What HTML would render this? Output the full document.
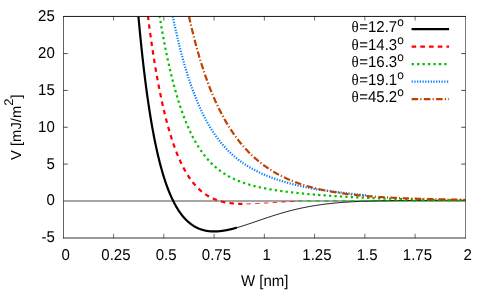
<!DOCTYPE html>
<html><head><meta charset="utf-8"><title>V(W) potential</title>
<style>
html,body{margin:0;padding:0;background:#fff;}
svg{display:block;will-change:transform;}
text{font-family:"Liberation Sans",sans-serif;font-size:15.7px;fill:#000;text-rendering:geometricPrecision;}
</style></head>
<body>
<svg width="491" height="294" viewBox="0 0 491 294">
<defs><clipPath id="c"><rect x="63.5" y="16.5" width="402.0" height="221.0"/></clipPath></defs>
<rect x="0" y="0" width="491" height="294" fill="#ffffff"/>
<line x1="63.5" y1="201" x2="465.5" y2="201" stroke="#a6a6a6" stroke-width="2"/>
<g clip-path="url(#c)" fill="none" stroke-linecap="butt" stroke-linejoin="round">
<path d="M130.00,-100.09 L130.50,-91.69 L131.00,-83.50 L131.50,-75.52 L132.00,-67.74 L132.50,-60.16 L133.00,-52.77 L133.50,-45.57 L134.00,-38.54 L134.50,-31.70 L135.00,-25.03 L135.50,-18.52 L136.00,-12.18 L136.50,-6.00 L137.00,0.03 L137.50,5.91 L138.00,11.65 L138.50,17.24 L139.00,22.69 L139.50,28.00 L140.00,33.19 L140.50,38.25 L141.00,43.18 L141.50,47.99 L142.00,52.68 L142.50,57.26 L143.00,61.72 L143.50,66.08 L144.00,70.33 L144.50,74.48 L145.00,78.52 L145.50,82.47 L146.00,86.32 L146.50,90.07 L147.00,93.74 L147.50,97.31 L148.00,100.80 L148.50,104.21 L149.00,107.53 L149.50,110.78 L150.00,113.94 L150.50,117.03 L151.00,120.04 L151.50,122.99 L152.00,125.86 L152.50,128.66 L153.00,131.39 L153.50,134.06 L154.00,136.67 L154.50,139.21 L155.00,141.69 L155.50,144.12 L156.00,146.48 L156.50,148.79 L157.00,151.04 L157.50,153.24 L158.00,155.39 L158.50,157.48 L159.00,159.53 L159.50,161.52 L160.00,163.47 L160.50,165.37 L161.00,167.23 L161.50,169.04 L162.00,170.81 L162.50,172.54 L163.00,174.22 L163.50,175.87 L164.00,177.47 L164.50,179.04 L165.00,180.57 L165.50,182.06 L166.00,183.52 L166.50,184.94 L167.00,186.33 L167.50,187.68 L168.00,189.00 L168.50,190.29 L169.00,191.55 L169.50,192.77 L170.00,193.97 L170.50,195.14 L171.00,196.27 L171.50,197.39 L172.00,198.47 L172.50,199.53 L173.00,200.56 L173.50,201.56 L174.00,202.54 L174.50,203.49 L175.00,204.43 L175.50,205.33 L176.00,206.22 L176.50,207.08 L177.00,207.92 L177.50,208.74 L178.00,209.53 L178.50,210.31 L179.00,211.07 L179.50,211.80 L180.00,212.52 L180.50,213.22 L181.00,213.90 L181.50,214.56 L182.00,215.20 L182.50,215.83 L183.00,216.44 L183.50,217.03 L184.00,217.61 L184.50,218.17 L185.00,218.71 L185.50,219.24 L186.00,219.75 L186.50,220.25 L187.00,220.74 L187.50,221.21 L188.00,221.66 L188.50,222.10 L189.00,222.53 L189.50,222.95 L190.00,223.35 L190.50,223.74 L191.00,224.12 L191.50,224.48 L192.00,224.84 L192.50,225.18 L193.00,225.51 L193.50,225.83 L194.00,226.14 L194.50,226.43 L195.00,226.72 L195.50,227.00 L196.00,227.26 L196.50,227.52 L197.00,227.76 L197.50,228.00 L198.00,228.23 L198.50,228.45 L199.00,228.65 L199.50,228.85 L200.00,229.05 L200.50,229.23 L201.00,229.40 L201.50,229.57 L202.00,229.73 L202.50,229.88 L203.00,230.02 L203.50,230.15 L204.00,230.28 L204.50,230.40 L205.00,230.51 L205.50,230.62 L206.00,230.71 L206.50,230.81 L207.00,230.89 L207.50,230.97 L208.00,231.04 L208.50,231.11 L209.00,231.17 L209.50,231.22 L210.00,231.27 L210.50,231.31 L211.00,231.34 L211.50,231.37 L212.00,231.40 L212.50,231.42 L213.00,231.43 L213.50,231.44 L214.00,231.44 L214.50,231.44 L215.00,231.44 L215.50,231.43 L216.00,231.41 L216.50,231.39 L217.00,231.37 L217.50,231.34 L218.00,231.30 L218.50,231.27 L219.00,231.22 L219.50,231.18 L220.00,231.13 L220.50,231.08 L221.00,231.02 L221.50,230.96 L222.00,230.89 L222.50,230.82 L223.00,230.75 L223.50,230.68 L224.00,230.60 L224.50,230.52 L225.00,230.43 L225.50,230.34 L226.00,230.25 L226.50,230.16 L227.00,230.06 L227.50,229.96 L228.00,229.86 L228.50,229.76 L229.00,229.65 L229.50,229.54 L230.00,229.42 L230.50,229.31 L231.00,229.19 L231.50,229.07 L232.00,228.95 L232.50,228.83 L233.00,228.70 L233.50,228.57 L234.00,228.44 L234.50,228.31 L235.00,228.17 L235.50,228.04 L236.00,227.90 L236.50,227.76 L236.90,227.65" stroke="#000000" stroke-width="2.2"/>
<path d="M236.90,227.65 L237.90,227.36 L238.90,227.07 L239.90,226.77 L240.90,226.47 L241.90,226.16 L242.90,225.84 L243.90,225.53 L244.90,225.21 L245.90,224.88 L246.90,224.55 L247.90,224.22 L248.90,223.89 L249.90,223.55 L250.90,223.22 L251.90,222.88 L252.90,222.54 L253.90,222.20 L254.90,221.85 L255.90,221.51 L256.90,221.17 L257.90,220.82 L258.90,220.48 L259.90,220.14 L260.90,219.80 L261.90,219.45 L262.90,219.11 L263.90,218.77 L264.90,218.44 L265.90,218.10 L266.90,217.77 L267.90,217.43 L268.90,217.10 L269.90,216.77 L270.90,216.45 L271.90,216.12 L272.90,215.80 L273.90,215.48 L274.90,215.17 L275.90,214.86 L276.90,214.55 L277.90,214.24 L278.90,213.94 L279.90,213.64 L280.90,213.34 L281.90,213.05 L282.90,212.76 L283.90,212.47 L284.90,212.19 L285.90,211.91 L286.90,211.64 L287.90,211.36 L288.90,211.10 L289.90,210.84 L290.90,210.58 L291.90,210.32 L292.90,210.07 L293.90,209.82 L294.90,209.58 L295.90,209.34 L296.90,209.11 L297.90,208.88 L298.90,208.65 L299.90,208.43 L300.90,208.21 L301.90,208.00 L302.90,207.79 L303.90,207.58 L304.90,207.38 L305.90,207.18 L306.90,206.99 L307.90,206.80 L308.90,206.61 L309.90,206.43 L310.90,206.25 L311.90,206.08 L312.90,205.91 L313.90,205.74 L314.90,205.58 L315.90,205.42 L316.90,205.26 L317.90,205.11 L318.90,204.96 L319.90,204.82 L320.90,204.68 L321.90,204.54 L322.90,204.41 L323.90,204.28 L324.90,204.15 L325.90,204.03 L326.90,203.91 L327.90,203.79 L328.90,203.68 L329.90,203.56 L330.90,203.46 L331.90,203.35 L332.90,203.25 L333.90,203.15 L334.90,203.05 L335.90,202.96 L336.90,202.87 L337.90,202.78 L338.90,202.70 L339.90,202.61 L340.90,202.53 L341.90,202.45 L342.90,202.38 L343.90,202.30 L344.90,202.23 L345.90,202.16 L346.90,202.10 L347.90,202.03 L348.90,201.97 L349.90,201.91 L350.90,201.85 L351.90,201.80 L352.90,201.74 L353.90,201.69 L354.90,201.64 L355.90,201.59 L356.90,201.54 L357.90,201.49 L358.90,201.45 L359.90,201.41 L360.90,201.37 L361.90,201.33 L362.90,201.29 L363.90,201.25 L364.90,201.22 L365.90,201.18 L366.90,201.15 L367.90,201.12 L368.90,201.09 L369.90,201.06 L370.90,201.03 L371.90,201.00 L372.90,200.97 L373.90,200.95 L374.90,200.93 L375.90,200.90 L376.90,200.88 L377.90,200.86 L378.90,200.84 L379.90,200.82 L380.90,200.80 L381.90,200.78 L382.90,200.76 L383.90,200.75 L384.90,200.73 L385.90,200.72 L386.90,200.70 L387.90,200.69 L388.90,200.67 L389.90,200.66 L390.90,200.65 L391.90,200.64 L392.90,200.62 L393.90,200.61 L394.90,200.60 L395.90,200.59 L396.90,200.58 L397.90,200.57 L398.90,200.57 L399.90,200.56 L400.90,200.55 L401.90,200.54 L402.90,200.53 L403.90,200.53 L404.90,200.52 L405.90,200.51 L406.90,200.51 L407.90,200.50 L408.90,200.50 L409.90,200.49 L410.90,200.48 L411.90,200.48 L412.90,200.48 L413.90,200.47 L414.90,200.47 L415.90,200.46 L416.90,200.46 L417.90,200.45 L418.90,200.45 L419.90,200.45 L420.90,200.44 L421.90,200.44 L422.90,200.44 L423.90,200.43 L424.90,200.43 L425.90,200.43 L426.90,200.42 L427.90,200.42 L428.90,200.42 L429.90,200.42 L430.90,200.41 L431.90,200.41 L432.90,200.41 L433.90,200.40 L434.90,200.40 L435.90,200.40 L436.90,200.40 L437.90,200.40 L438.90,200.39 L439.90,200.39 L440.90,200.39 L441.90,200.39 L442.90,200.38 L443.90,200.38 L444.90,200.38 L445.90,200.38 L446.90,200.37 L447.90,200.37 L448.90,200.37 L449.90,200.37 L450.90,200.36 L451.90,200.36 L452.90,200.36 L453.90,200.36 L454.90,200.35 L455.90,200.35 L456.90,200.35 L457.90,200.35 L458.90,200.34 L459.90,200.34 L460.90,200.34 L461.90,200.34 L462.90,200.33 L463.90,200.33 L464.90,200.33 L465.50,200.33" stroke="#000000" stroke-width="0.9"/>
<path d="M140.00,-58.13 L140.50,-52.74 L141.00,-47.46 L141.50,-42.29 L142.00,-37.21 L142.50,-32.23 L143.00,-27.35 L143.50,-22.57 L144.00,-17.88 L144.50,-13.28 L145.00,-8.77 L145.50,-4.34 L146.00,-0.01 L146.50,4.24 L147.00,8.41 L147.50,12.50 L148.00,16.51 L148.50,20.44 L149.00,24.29 L149.50,28.07 L150.00,31.78 L150.50,35.41 L151.00,38.97 L151.50,42.47 L152.00,45.89 L152.50,49.25 L153.00,52.54 L153.50,55.77 L154.00,58.94 L154.50,62.05 L155.00,65.09 L155.50,68.07 L156.00,71.00 L156.50,73.87 L157.00,76.68 L157.50,79.44 L158.00,82.15 L158.50,84.80 L159.00,87.40 L159.50,89.95 L160.00,92.45 L160.50,94.90 L161.00,97.30 L161.50,99.66 L162.00,101.97 L162.50,104.23 L163.00,106.45 L163.50,108.63 L164.00,110.76 L164.50,112.86 L165.00,114.91 L165.50,116.92 L166.00,118.89 L166.50,120.82 L167.00,122.71 L167.50,124.57 L168.00,126.39 L168.50,128.17 L169.00,129.92 L169.50,131.63 L170.00,133.31 L170.50,134.95 L171.00,136.56 L171.50,138.14 L172.00,139.69 L172.50,141.21 L173.00,142.69 L173.50,144.15 L174.00,145.58 L174.50,146.98 L175.00,148.35 L175.50,149.69 L176.00,151.00 L176.50,152.29 L177.00,153.55 L177.50,154.79 L178.00,156.00 L178.50,157.19 L179.00,158.35 L179.50,159.49 L180.00,160.60 L180.50,161.69 L181.00,162.76 L181.50,163.81 L182.00,164.83 L182.50,165.83 L183.00,166.81 L183.50,167.78 L184.00,168.72 L184.50,169.64 L185.00,170.54 L185.50,171.42 L186.00,172.28 L186.50,173.13 L187.00,173.95 L187.50,174.76 L188.00,175.55 L188.50,176.33 L189.00,177.08 L189.50,177.82 L190.00,178.55 L190.50,179.26 L191.00,179.95 L191.50,180.63 L192.00,181.29 L192.50,181.94 L193.00,182.57 L193.50,183.19 L194.00,183.79 L194.50,184.38 L195.00,184.96 L195.50,185.52 L196.00,186.07 L196.50,186.61 L197.00,187.14 L197.50,187.65 L198.00,188.15 L198.50,188.64 L199.00,189.12 L199.50,189.58 L200.00,190.04 L200.50,190.48 L201.00,190.91 L201.50,191.34 L202.00,191.75 L202.50,192.15 L203.00,192.54 L203.50,192.92 L204.00,193.30 L204.50,193.66 L205.00,194.01 L205.50,194.36 L206.00,194.69 L206.50,195.02 L207.00,195.34 L207.50,195.65 L208.00,195.95 L208.50,196.24 L209.00,196.53 L209.50,196.81 L210.00,197.08 L210.50,197.34 L211.00,197.60 L211.50,197.85 L212.00,198.09 L212.50,198.32 L213.00,198.55 L213.50,198.77 L214.00,198.98 L214.50,199.19 L215.00,199.39 L215.50,199.59 L216.00,199.78 L216.50,199.96 L217.00,200.14 L217.50,200.31 L218.00,200.48 L218.50,200.64 L219.00,200.80 L219.50,200.95 L220.00,201.09 L220.50,201.24 L221.00,201.37 L221.50,201.50 L222.00,201.63 L222.50,201.75 L223.00,201.87 L223.50,201.98 L224.00,202.09 L224.50,202.20 L225.00,202.30 L225.50,202.40 L226.00,202.49 L226.50,202.58 L227.00,202.66 L227.50,202.75 L228.00,202.82 L228.50,202.90 L229.00,202.97 L229.50,203.04 L230.00,203.10 L230.50,203.17 L231.00,203.23 L231.50,203.28 L232.00,203.33 L232.50,203.38 L233.00,203.43 L233.50,203.48 L234.00,203.52 L234.50,203.56 L235.00,203.59 L235.50,203.63 L236.00,203.66 L236.50,203.69 L237.00,203.72 L237.50,203.74 L238.00,203.76 L238.50,203.79 L239.00,203.80 L239.50,203.82 L240.00,203.84 L240.50,203.85 L241.00,203.86 L241.50,203.87 L242.00,203.88 L242.40,203.88" stroke="#ff0000" stroke-width="2.2" stroke-dasharray="4.5,4.2" stroke-dashoffset="4.08"/>
<path d="M242.40,203.88 L243.40,203.89 L244.40,203.89 L245.40,203.89 L246.40,203.88 L247.40,203.87 L248.40,203.85 L249.40,203.82 L250.40,203.79 L251.40,203.76 L252.40,203.73 L253.40,203.69 L254.40,203.65 L255.40,203.61 L256.40,203.56 L257.40,203.51 L258.40,203.46 L259.40,203.41 L260.40,203.35 L261.40,203.30 L262.40,203.24 L263.40,203.18 L264.40,203.12 L265.40,203.06 L266.40,203.00 L267.40,202.94 L268.40,202.88 L269.40,202.81 L270.40,202.75 L271.40,202.69 L272.40,202.63 L273.40,202.56 L274.40,202.50 L275.40,202.44 L276.40,202.38 L277.40,202.32 L278.40,202.26 L279.40,202.20 L280.40,202.14 L281.40,202.08 L282.40,202.02 L283.40,201.96 L284.40,201.91 L285.40,201.85 L286.40,201.80 L287.40,201.75 L288.40,201.69 L289.40,201.64 L290.40,201.59 L291.40,201.54 L292.40,201.50 L293.40,201.45 L294.40,201.40 L295.40,201.36 L296.40,201.32 L296.50,201.31" stroke="#ff0000" stroke-width="1.0" stroke-dasharray="4.4,4.35" stroke-dashoffset="4.70"/>
<path d="M152.00,-37.01 L152.50,-33.09 L153.00,-29.23 L153.50,-25.43 L154.00,-21.70 L154.50,-18.03 L155.00,-14.42 L155.50,-10.88 L156.00,-7.39 L156.50,-3.96 L157.00,-0.59 L157.50,2.73 L158.00,5.99 L158.50,9.19 L159.00,12.34 L159.50,15.44 L160.00,18.49 L160.50,21.48 L161.00,24.43 L161.50,27.32 L162.00,30.16 L162.50,32.96 L163.00,35.71 L163.50,38.41 L164.00,41.07 L164.50,43.68 L165.00,46.25 L165.50,48.77 L166.00,51.25 L166.50,53.69 L167.00,56.09 L167.50,58.44 L168.00,60.76 L168.50,63.03 L169.00,65.27 L169.50,67.47 L170.00,69.63 L170.50,71.75 L171.00,73.84 L171.50,75.89 L172.00,77.91 L172.50,79.89 L173.00,81.84 L173.50,83.75 L174.00,85.63 L174.50,87.48 L175.00,89.30 L175.50,91.08 L176.00,92.84 L176.50,94.56 L177.00,96.26 L177.50,97.92 L178.00,99.56 L178.50,101.16 L179.00,102.74 L179.50,104.30 L180.00,105.82 L180.50,107.32 L181.00,108.79 L181.50,110.24 L182.00,111.66 L182.50,113.06 L183.00,114.44 L183.50,115.79 L184.00,117.11 L184.50,118.41 L185.00,119.69 L185.50,120.95 L186.00,122.19 L186.50,123.40 L187.00,124.59 L187.50,125.77 L188.00,126.92 L188.50,128.05 L189.00,129.16 L189.50,130.25 L190.00,131.33 L190.50,132.38 L191.00,133.42 L191.50,134.44 L192.00,135.44 L192.50,136.42 L193.00,137.38 L193.50,138.33 L194.00,139.26 L194.50,140.18 L195.00,141.08 L195.50,141.96 L196.00,142.83 L196.50,143.68 L197.00,144.52 L197.50,145.34 L198.00,146.15 L198.50,146.95 L199.00,147.73 L199.50,148.50 L200.00,149.25 L200.50,149.99 L201.00,150.72 L201.50,151.43 L202.00,152.13 L202.50,152.82 L203.00,153.50 L203.50,154.17 L204.00,154.82 L204.50,155.47 L205.00,156.10 L205.50,156.72 L206.00,157.33 L206.50,157.93 L207.00,158.52 L207.50,159.09 L208.00,159.66 L208.50,160.22 L209.00,160.77 L209.50,161.31 L210.00,161.84 L210.50,162.36 L211.00,162.87 L211.50,163.37 L212.00,163.87 L212.50,164.35 L213.00,164.83 L213.50,165.30 L214.00,165.76 L214.50,166.21 L215.00,166.66 L215.50,167.09 L216.00,167.52 L216.50,167.95 L217.00,168.36 L217.50,168.77 L218.00,169.17 L218.50,169.56 L219.00,169.95 L219.50,170.33 L220.00,170.71 L220.50,171.07 L221.00,171.44 L221.50,171.79 L222.00,172.14 L222.50,172.49 L223.00,172.82 L223.50,173.16 L224.00,173.48 L224.50,173.80 L225.00,174.12 L225.50,174.43 L226.00,174.73 L226.50,175.03 L227.00,175.33 L227.50,175.62 L228.00,175.91 L228.50,176.19 L229.00,176.46 L229.50,176.73 L230.00,177.00 L230.50,177.26 L231.00,177.52 L231.50,177.78 L232.00,178.03 L232.50,178.27 L233.00,178.52 L233.50,178.75 L234.00,178.99 L234.50,179.22 L235.00,179.45 L235.50,179.67 L236.00,179.89 L236.50,180.11 L237.00,180.32 L237.50,180.53 L238.00,180.74 L238.50,180.94 L239.00,181.14 L239.50,181.34 L240.00,181.53 L240.50,181.72 L241.00,181.91 L241.50,182.09 L242.00,182.28 L242.50,182.46 L243.00,182.63 L243.50,182.81 L244.00,182.98 L244.50,183.15 L245.00,183.32 L245.50,183.48 L246.00,183.64 L246.50,183.80 L247.00,183.96 L247.50,184.11 L248.00,184.26 L248.50,184.41 L249.00,184.56 L249.50,184.71 L250.00,184.85 L250.50,185.00 L251.00,185.14 L251.50,185.27 L252.00,185.41 L252.50,185.54 L253.00,185.68 L253.50,185.81 L254.00,185.94 L254.50,186.06 L255.00,186.19 L255.50,186.31 L256.00,186.43 L256.50,186.55 L257.00,186.67 L257.50,186.79 L258.00,186.91 L258.50,187.02 L259.00,187.13 L259.50,187.25 L260.00,187.36 L260.50,187.46 L261.00,187.57 L261.50,187.68 L262.00,187.78 L262.50,187.89 L263.00,187.99 L263.50,188.09 L264.00,188.19 L264.50,188.29 L265.00,188.38 L265.50,188.48 L266.00,188.58 L266.50,188.67 L267.00,188.76 L267.50,188.85 L268.00,188.95 L268.50,189.03 L269.00,189.12 L269.50,189.21 L270.00,189.30 L270.50,189.38 L271.00,189.47 L271.50,189.55 L272.00,189.64 L272.50,189.72 L273.00,189.80 L273.50,189.88 L274.00,189.96 L274.50,190.04 L275.00,190.12 L275.50,190.19 L276.00,190.27 L276.50,190.35 L277.00,190.42 L277.50,190.50 L278.00,190.57 L278.50,190.64 L279.00,190.72 L279.50,190.79 L280.00,190.86 L280.50,190.93 L281.00,191.00 L281.50,191.07 L282.00,191.13 L282.50,191.20 L283.00,191.27 L283.50,191.33 L284.00,191.40 L284.50,191.47 L285.00,191.53 L285.50,191.59 L286.00,191.66 L286.50,191.72 L287.00,191.78 L287.50,191.85 L288.00,191.91 L288.50,191.97 L289.00,192.03 L289.50,192.09 L290.00,192.15 L290.50,192.21 L291.00,192.26 L291.50,192.32 L292.00,192.38 L292.50,192.44 L293.00,192.49 L293.50,192.55 L294.00,192.61 L294.50,192.66 L295.00,192.72 L295.50,192.77 L296.00,192.83 L296.50,192.88 L297.00,192.93 L297.50,192.99 L298.00,193.04 L298.50,193.09 L299.00,193.14 L299.50,193.19 L300.00,193.24 L300.50,193.29 L301.00,193.35 L301.50,193.40 L302.00,193.44 L302.50,193.49 L303.00,193.54 L303.50,193.59 L304.00,193.64 L304.50,193.69 L305.00,193.74 L305.50,193.78 L306.00,193.83 L306.50,193.88 L307.00,193.92 L307.50,193.97 L308.00,194.01 L308.50,194.06 L309.00,194.11 L309.50,194.15 L310.00,194.19 L310.50,194.24 L311.00,194.28 L311.50,194.33 L312.00,194.37 L312.50,194.41 L313.00,194.46 L313.50,194.50 L314.00,194.54 L314.50,194.58 L315.00,194.63 L315.50,194.67 L316.00,194.71 L316.50,194.75 L317.00,194.79 L317.50,194.83 L318.00,194.87 L318.50,194.91 L319.00,194.95 L319.50,194.99 L320.00,195.03 L320.50,195.07 L321.00,195.11 L321.50,195.15 L322.00,195.19 L322.50,195.22 L323.00,195.26 L323.50,195.30 L324.00,195.34 L324.50,195.38 L325.00,195.41 L325.50,195.45 L326.00,195.49 L326.50,195.52 L327.00,195.56 L327.50,195.59 L328.00,195.63 L328.50,195.67 L329.00,195.70 L329.50,195.74 L330.00,195.77 L330.50,195.81 L331.00,195.84 L331.50,195.88 L332.00,195.91 L332.50,195.94 L333.00,195.98 L333.50,196.01 L334.00,196.04 L334.50,196.08 L335.00,196.11 L335.50,196.14 L336.00,196.18 L336.50,196.21 L337.00,196.24 L337.50,196.27 L338.00,196.31 L338.50,196.34 L339.00,196.37 L339.50,196.40 L340.00,196.43 L340.50,196.46 L341.00,196.49 L341.50,196.52 L342.00,196.55 L342.50,196.58 L343.00,196.61 L343.50,196.64 L344.00,196.67 L344.50,196.70 L345.00,196.73 L345.50,196.76 L346.00,196.79 L346.50,196.82 L347.00,196.85 L347.50,196.88 L348.00,196.91 L348.50,196.93 L349.00,196.96 L349.50,196.99 L350.00,197.02 L350.50,197.04 L351.00,197.07 L351.50,197.10 L352.00,197.13 L352.50,197.15 L353.00,197.18 L353.50,197.21 L354.00,197.23 L354.50,197.26 L355.00,197.28 L355.50,197.31 L356.00,197.34 L356.50,197.36 L357.00,197.39 L357.50,197.41 L358.00,197.44 L358.50,197.46 L359.00,197.49 L359.50,197.51 L360.00,197.54 L360.50,197.56 L361.00,197.58 L361.50,197.61 L362.00,197.63 L362.50,197.66 L363.00,197.68 L363.50,197.70 L364.00,197.73 L364.50,197.75 L365.00,197.77 L365.50,197.80 L366.00,197.82 L366.50,197.84 L367.00,197.86 L367.50,197.89 L368.00,197.91 L368.50,197.93 L369.00,197.95 L369.50,197.97 L370.00,197.99 L370.50,198.02 L371.00,198.04 L371.50,198.06 L372.00,198.08 L372.50,198.10 L373.00,198.12 L373.50,198.14 L374.00,198.16 L374.50,198.18 L375.00,198.20 L375.50,198.22 L376.00,198.24 L376.50,198.26 L377.00,198.28 L377.50,198.30 L378.00,198.32 L378.50,198.34 L379.00,198.36 L379.50,198.38 L380.00,198.40 L380.50,198.42 L381.00,198.44 L381.50,198.45 L382.00,198.47 L382.50,198.49 L383.00,198.51 L383.50,198.53 L384.00,198.54 L384.50,198.56 L385.00,198.58 L385.50,198.60 L386.00,198.61 L386.50,198.63 L387.00,198.65 L387.50,198.67 L388.00,198.68 L388.50,198.70 L389.00,198.72 L389.50,198.73 L390.00,198.75 L390.50,198.77 L391.00,198.78 L391.50,198.80 L392.00,198.81 L392.50,198.83 L393.00,198.85 L393.50,198.86 L394.00,198.88 L394.50,198.89 L395.00,198.91 L395.50,198.92 L396.00,198.94 L396.50,198.95 L397.00,198.97 L397.50,198.98 L398.00,199.00 L398.50,199.01 L399.00,199.03 L399.50,199.04 L400.00,199.05 L400.50,199.07 L401.00,199.08 L401.50,199.10 L402.00,199.11 L402.50,199.12 L403.00,199.14 L403.50,199.15 L404.00,199.17 L404.50,199.18 L405.00,199.19 L405.50,199.20 L406.00,199.22 L406.50,199.23 L407.00,199.24 L407.50,199.26 L408.00,199.27 L408.50,199.28 L409.00,199.29 L409.50,199.31 L410.00,199.32 L410.50,199.33 L411.00,199.34 L411.50,199.35 L412.00,199.37 L412.50,199.38 L413.00,199.39 L413.50,199.40 L414.00,199.41 L414.50,199.42 L415.00,199.44 L415.50,199.45 L416.00,199.46 L416.50,199.47 L417.00,199.48 L417.50,199.49 L418.00,199.50 L418.50,199.51 L419.00,199.52 L419.50,199.53 L420.00,199.54 L420.50,199.55 L421.00,199.56 L421.50,199.57 L422.00,199.59 L422.50,199.60 L423.00,199.61 L423.50,199.61 L424.00,199.62 L424.50,199.63 L425.00,199.64 L425.50,199.65 L426.00,199.66 L426.50,199.67 L427.00,199.68 L427.50,199.69 L428.00,199.70 L428.50,199.71 L429.00,199.72 L429.50,199.73 L430.00,199.74 L430.50,199.75 L431.00,199.75 L431.50,199.76 L432.00,199.77 L432.50,199.78 L433.00,199.79 L433.50,199.80 L434.00,199.80 L434.50,199.81 L435.00,199.82 L435.50,199.83 L436.00,199.84 L436.50,199.85 L437.00,199.85 L437.50,199.86 L438.00,199.87 L438.50,199.88 L439.00,199.88 L439.50,199.89 L440.00,199.90 L440.50,199.91 L441.00,199.91 L441.50,199.92 L442.00,199.93 L442.50,199.94 L443.00,199.94 L443.50,199.95 L444.00,199.96 L444.50,199.96 L445.00,199.97 L445.50,199.98 L446.00,199.98 L446.50,199.99 L447.00,200.00 L447.50,200.00 L448.00,200.01 L448.50,200.02 L449.00,200.02 L449.50,200.03 L450.00,200.04 L450.50,200.04 L451.00,200.05 L451.50,200.06 L452.00,200.06 L452.50,200.07 L453.00,200.07 L453.50,200.08 L454.00,200.09 L454.50,200.09 L455.00,200.10 L455.50,200.10 L456.00,200.11 L456.50,200.11 L457.00,200.12 L457.50,200.12 L458.00,200.13 L458.50,200.14 L459.00,200.14 L459.50,200.15 L460.00,200.15 L460.50,200.16 L461.00,200.16 L461.50,200.17 L462.00,200.17 L462.50,200.18 L463.00,200.18 L463.50,200.19 L464.00,200.19 L464.50,200.20 L465.00,200.20 L465.50,200.21" stroke="#00c000" stroke-width="2.2" stroke-dasharray="2.3,3.15" stroke-dashoffset="1.51"/>
<path d="M298.00,201.00 L465.50,200.80" stroke="#00c000" stroke-width="1.0" stroke-dasharray="4.4,4.35" stroke-dashoffset="0.00"/>
<path d="M164.00,-31.77 L164.50,-28.68 L165.00,-25.64 L165.50,-22.63 L166.00,-19.67 L166.50,-16.75 L167.00,-13.88 L167.50,-11.04 L168.00,-8.24 L168.50,-5.49 L169.00,-2.77 L169.50,-0.09 L170.00,2.55 L170.50,5.16 L171.00,7.72 L171.50,10.25 L172.00,12.75 L172.50,15.20 L173.00,17.63 L173.50,20.02 L174.00,22.37 L174.50,24.69 L175.00,26.98 L175.50,29.24 L176.00,31.46 L176.50,33.65 L177.00,35.81 L177.50,37.94 L178.00,40.04 L178.50,42.11 L179.00,44.15 L179.50,46.16 L180.00,48.14 L180.50,50.09 L181.00,52.02 L181.50,53.91 L182.00,55.78 L182.50,57.63 L183.00,59.44 L183.50,61.23 L184.00,63.00 L184.50,64.74 L185.00,66.45 L185.50,68.14 L186.00,69.81 L186.50,71.45 L187.00,73.07 L187.50,74.66 L188.00,76.23 L188.50,77.78 L189.00,79.31 L189.50,80.81 L190.00,82.30 L190.50,83.76 L191.00,85.20 L191.50,86.62 L192.00,88.02 L192.50,89.40 L193.00,90.76 L193.50,92.10 L194.00,93.42 L194.50,94.72 L195.00,96.00 L195.50,97.27 L196.00,98.52 L196.50,99.75 L197.00,100.96 L197.50,102.15 L198.00,103.33 L198.50,104.49 L199.00,105.63 L199.50,106.76 L200.00,107.87 L200.50,108.96 L201.00,110.04 L201.50,111.11 L202.00,112.15 L202.50,113.19 L203.00,114.21 L203.50,115.21 L204.00,116.20 L204.50,117.18 L205.00,118.14 L205.50,119.09 L206.00,120.02 L206.50,120.95 L207.00,121.85 L207.50,122.75 L208.00,123.63 L208.50,124.50 L209.00,125.36 L209.50,126.21 L210.00,127.04 L210.50,127.87 L211.00,128.68 L211.50,129.48 L212.00,130.27 L212.50,131.04 L213.00,131.81 L213.50,132.57 L214.00,133.31 L214.50,134.05 L215.00,134.77 L215.50,135.49 L216.00,136.19 L216.50,136.89 L217.00,137.57 L217.50,138.25 L218.00,138.92 L218.50,139.57 L219.00,140.22 L219.50,140.86 L220.00,141.49 L220.50,142.12 L221.00,142.73 L221.50,143.34 L222.00,143.93 L222.50,144.52 L223.00,145.10 L223.50,145.68 L224.00,146.24 L224.50,146.80 L225.00,147.35 L225.50,147.90 L226.00,148.43 L226.50,148.96 L227.00,149.48 L227.50,150.00 L228.00,150.51 L228.50,151.01 L229.00,151.50 L229.50,151.99 L230.00,152.47 L230.50,152.95 L231.00,153.42 L231.50,153.88 L232.00,154.34 L232.50,154.79 L233.00,155.24 L233.50,155.68 L234.00,156.11 L234.50,156.54 L235.00,156.96 L235.50,157.38 L236.00,157.79 L236.50,158.20 L237.00,158.60 L237.50,159.00 L238.00,159.39 L238.50,159.78 L239.00,160.16 L239.50,160.54 L240.00,160.91 L240.50,161.28 L241.00,161.65 L241.50,162.01 L242.00,162.36 L242.50,162.71 L243.00,163.06 L243.50,163.40 L244.00,163.74 L244.50,164.08 L245.00,164.41 L245.50,164.73 L246.00,165.06 L246.50,165.37 L247.00,165.69 L247.50,166.00 L248.00,166.31 L248.50,166.61 L249.00,166.91 L249.50,167.21 L250.00,167.50 L250.50,167.80 L251.00,168.08 L251.50,168.37 L252.00,168.65 L252.50,168.92 L253.00,169.20 L253.50,169.47 L254.00,169.74 L254.50,170.00 L255.00,170.27 L255.50,170.53 L256.00,170.78 L256.50,171.04 L257.00,171.29 L257.50,171.54 L258.00,171.78 L258.50,172.03 L259.00,172.27 L259.50,172.51 L260.00,172.74 L260.50,172.97 L261.00,173.21 L261.50,173.43 L262.00,173.66 L262.50,173.88 L263.00,174.11 L263.50,174.32 L264.00,174.54 L264.50,174.76 L265.00,174.97 L265.50,175.18 L266.00,175.39 L266.50,175.59 L267.00,175.80 L267.50,176.00 L268.00,176.20 L268.50,176.40 L269.00,176.60 L269.50,176.79 L270.00,176.98 L270.50,177.17 L271.00,177.36 L271.50,177.55 L272.00,177.74 L272.50,177.92 L273.00,178.10 L273.50,178.28 L274.00,178.46 L274.50,178.64 L275.00,178.81 L275.50,178.99 L276.00,179.16 L276.50,179.33 L277.00,179.50 L277.50,179.67 L278.00,179.83 L278.50,180.00 L279.00,180.16 L279.50,180.32 L280.00,180.48 L280.50,180.64 L281.00,180.80 L281.50,180.96 L282.00,181.11 L282.50,181.26 L283.00,181.42 L283.50,181.57 L284.00,181.72 L284.50,181.87 L285.00,182.01 L285.50,182.16 L286.00,182.30 L286.50,182.45 L287.00,182.59 L287.50,182.73 L288.00,182.87 L288.50,183.01 L289.00,183.15 L289.50,183.29 L290.00,183.42 L290.50,183.56 L291.00,183.69 L291.50,183.82 L292.00,183.95 L292.50,184.08 L293.00,184.21 L293.50,184.34 L294.00,184.47 L294.50,184.59 L295.00,184.72 L295.50,184.84 L296.00,184.97 L296.50,185.09 L297.00,185.21 L297.50,185.33 L298.00,185.45 L298.50,185.57 L299.00,185.69 L299.50,185.80 L300.00,185.92 L300.50,186.04 L301.00,186.15 L301.50,186.26 L302.00,186.38 L302.50,186.49 L303.00,186.60 L303.50,186.71 L304.00,186.82 L304.50,186.93 L305.00,187.03 L305.50,187.14 L306.00,187.25 L306.50,187.35 L307.00,187.46 L307.50,187.56 L308.00,187.67 L308.50,187.77 L309.00,187.87 L309.50,187.97 L310.00,188.07 L310.50,188.17 L311.00,188.27 L311.50,188.37 L312.00,188.46 L312.50,188.56 L313.00,188.66 L313.50,188.75 L314.00,188.85 L314.50,188.94 L315.00,189.03 L315.50,189.13 L316.00,189.22 L316.50,189.31 L317.00,189.39 L317.50,189.47 L318.00,189.55 L318.50,189.62 L319.00,189.69 L319.50,189.76 L320.00,189.82 L320.50,189.88 L321.00,189.94 L321.50,190.00 L322.00,190.06 L322.50,190.11 L323.00,190.17 L323.50,190.22 L324.00,190.27 L324.50,190.33 L325.00,190.38 L325.50,190.43 L326.00,190.49 L326.50,190.54 L327.00,190.60 L327.50,190.66 L328.00,190.72 L328.50,190.79 L329.00,190.86 L329.50,190.93 L330.00,191.00 L330.50,191.07 L331.00,191.15 L331.50,191.22 L332.00,191.30 L332.50,191.37 L333.00,191.44 L333.50,191.51 L334.00,191.59 L334.50,191.66 L335.00,191.73 L335.50,191.80 L336.00,191.87 L336.50,191.94 L337.00,192.00 L337.50,192.07 L338.00,192.14 L338.50,192.21 L339.00,192.27 L339.50,192.34 L340.00,192.41 L340.50,192.47 L341.00,192.54 L341.50,192.60 L342.00,192.66 L342.50,192.73 L343.00,192.79 L343.50,192.85 L344.00,192.92 L344.50,192.98 L345.00,193.04 L345.50,193.10 L346.00,193.16 L346.50,193.22 L347.00,193.28 L347.50,193.34 L348.00,193.40 L348.50,193.45 L349.00,193.51 L349.50,193.57 L350.00,193.63 L350.50,193.68 L351.00,193.74 L351.50,193.80 L352.00,193.85 L352.50,193.91 L353.00,193.96 L353.50,194.01 L354.00,194.07 L354.50,194.12 L355.00,194.17 L355.50,194.23 L356.00,194.28 L356.50,194.33 L357.00,194.38 L357.50,194.43 L358.00,194.48 L358.50,194.53 L359.00,194.58 L359.50,194.63 L360.00,194.68 L360.50,194.73 L361.00,194.78 L361.50,194.83 L362.00,194.88 L362.50,194.92 L363.00,194.97 L363.50,195.02 L364.00,195.06 L364.50,195.11 L365.00,195.16 L365.50,195.20 L366.00,195.25 L366.50,195.29" stroke="#0080ff" stroke-width="2.2" stroke-dasharray="1.25,1.47" stroke-dashoffset="0.00"/>
<path d="M180.00,-29.61 L180.50,-26.73 L181.00,-23.89 L181.50,-21.09 L182.00,-18.33 L182.50,-15.61 L183.00,-12.92 L183.50,-10.28 L184.00,-7.67 L184.50,-5.10 L185.00,-2.56 L185.50,-0.06 L186.00,2.40 L186.50,4.83 L187.00,7.23 L187.50,9.59 L188.00,11.92 L188.50,14.22 L189.00,16.48 L189.50,18.72 L190.00,20.92 L190.50,23.09 L191.00,25.24 L191.50,27.35 L192.00,29.43 L192.50,31.48 L193.00,33.51 L193.50,35.51 L194.00,37.48 L194.50,39.42 L195.00,41.34 L195.50,43.23 L196.00,45.10 L196.50,46.94 L197.00,48.75 L197.50,50.54 L198.00,52.31 L198.50,54.05 L199.00,55.77 L199.50,57.46 L200.00,59.14 L200.50,60.79 L201.00,62.41 L201.50,64.02 L202.00,65.60 L202.50,67.17 L203.00,68.71 L203.50,70.23 L204.00,71.74 L204.50,73.22 L205.00,74.68 L205.50,76.13 L206.00,77.55 L206.50,78.96 L207.00,80.35 L207.50,81.72 L208.00,83.07 L208.50,84.40 L209.00,85.72 L209.50,87.02 L210.00,88.30 L210.50,89.57 L211.00,90.82 L211.50,92.06 L212.00,93.27 L212.50,94.48 L213.00,95.67 L213.50,96.84 L214.00,98.00 L214.50,99.14 L215.00,100.27 L215.50,101.39 L216.00,102.49 L216.50,103.58 L217.00,104.65 L217.50,105.71 L218.00,106.76 L218.50,107.79 L219.00,108.81 L219.50,109.82 L220.00,110.82 L220.50,111.80 L221.00,112.78 L221.50,113.74 L222.00,114.69 L222.50,115.62 L223.00,116.55 L223.50,117.47 L224.00,118.37 L224.50,119.26 L225.00,120.15 L225.50,121.02 L226.00,121.88 L226.50,122.73 L227.00,123.57 L227.50,124.40 L228.00,125.23 L228.50,126.04 L229.00,126.84 L229.50,127.63 L230.00,128.42 L230.50,129.19 L231.00,129.96 L231.50,130.71 L232.00,131.46 L232.50,132.20 L233.00,132.93 L233.50,133.65 L234.00,134.37 L234.50,135.07 L235.00,135.77 L235.50,136.46 L236.00,137.14 L236.50,137.81 L237.00,138.48 L237.50,139.14 L238.00,139.79 L238.50,140.43 L239.00,141.07 L239.50,141.70 L240.00,142.32 L240.50,142.94 L241.00,143.55 L241.50,144.15 L242.00,144.74 L242.50,145.33 L243.00,145.91 L243.50,146.49 L244.00,147.06 L244.50,147.62 L245.00,148.18 L245.50,148.73 L246.00,149.27 L246.50,149.81 L247.00,150.34 L247.50,150.87 L248.00,151.39 L248.50,151.91 L249.00,152.42 L249.50,152.92 L250.00,153.42 L250.50,153.91 L251.00,154.40 L251.50,154.88 L252.00,155.36 L252.50,155.83 L253.00,156.30 L253.50,156.76 L254.00,157.22 L254.50,157.67 L255.00,158.12 L255.50,158.56 L256.00,159.00 L256.50,159.43 L257.00,159.86 L257.50,160.28 L258.00,160.70 L258.50,161.11 L259.00,161.52 L259.50,161.93 L260.00,162.33 L260.50,162.73 L261.00,163.12 L261.50,163.51 L262.00,163.90 L262.50,164.28 L263.00,164.65 L263.50,165.02 L264.00,165.39 L264.50,165.76 L265.00,166.12 L265.50,166.47 L266.00,166.83 L266.50,167.18 L267.00,167.52 L267.50,167.86 L268.00,168.20 L268.50,168.54 L269.00,168.87 L269.50,169.20 L270.00,169.52 L270.50,169.84 L271.00,170.16 L271.50,170.47 L272.00,170.78 L272.50,171.09 L273.00,171.39 L273.50,171.70 L274.00,171.99 L274.50,172.29 L275.00,172.58 L275.50,172.87 L276.00,173.15 L276.50,173.44 L277.00,173.71 L277.50,173.99 L278.00,174.26 L278.50,174.54 L279.00,174.80 L279.50,175.07 L280.00,175.33 L280.50,175.59 L281.00,175.85 L281.50,176.10 L282.00,176.35 L282.50,176.60 L283.00,176.85 L283.50,177.09 L284.00,177.33 L284.50,177.57 L285.00,177.80 L285.50,178.04 L286.00,178.27 L286.50,178.50 L287.00,178.72 L287.50,178.95 L288.00,179.17 L288.50,179.39 L289.00,179.60 L289.50,179.82 L290.00,180.03 L290.50,180.24 L291.00,180.45 L291.50,180.65 L292.00,180.85 L292.50,181.06 L293.00,181.25 L293.50,181.45 L294.00,181.65 L294.50,181.84 L295.00,182.03 L295.50,182.22 L296.00,182.40 L296.50,182.59 L297.00,182.77 L297.50,182.95 L298.00,183.13 L298.50,183.31 L299.00,183.48 L299.50,183.66 L300.00,183.83 L300.50,184.00 L301.00,184.17 L301.50,184.33 L302.00,184.50 L302.50,184.66 L303.00,184.82 L303.50,184.98 L304.00,185.14 L304.50,185.29 L305.00,185.45 L305.50,185.60 L306.00,185.75 L306.50,185.90 L307.00,186.05 L307.50,186.19 L308.00,186.34 L308.50,186.48 L309.00,186.62 L309.50,186.76 L310.00,186.90 L310.50,187.04 L311.00,187.17 L311.50,187.31 L312.00,187.44 L312.50,187.57 L313.00,187.70 L313.50,187.83 L314.00,187.96 L314.50,188.08 L315.00,188.21 L315.50,188.33 L316.00,188.45 L316.50,188.58 L317.00,188.69 L317.50,188.81 L318.00,188.93 L318.50,189.05 L319.00,189.16 L319.50,189.27 L320.00,189.39 L320.50,189.50 L321.00,189.61 L321.50,189.72 L322.00,189.82 L322.50,189.93 L323.00,190.03 L323.50,190.14 L324.00,190.24 L324.50,190.34 L325.00,190.44 L325.50,190.54 L326.00,190.64 L326.50,190.74 L327.00,190.84 L327.50,190.93 L328.00,191.03 L328.50,191.12 L329.00,191.21 L329.50,191.31 L330.00,191.40 L330.50,191.49 L331.00,191.58 L331.50,191.66 L332.00,191.75 L332.50,191.84 L333.00,191.92 L333.50,192.01 L334.00,192.09 L334.50,192.17 L335.00,192.25 L335.50,192.34 L336.00,192.42 L336.50,192.49 L337.00,192.57 L337.50,192.65 L338.00,192.73 L338.50,192.80 L339.00,192.88 L339.50,192.95 L340.00,193.03 L340.50,193.10 L341.00,193.17 L341.50,193.24 L342.00,193.31 L342.50,193.38 L343.00,193.45 L343.50,193.52 L344.00,193.59 L344.50,193.66 L345.00,193.72 L345.50,193.79 L346.00,193.85 L346.50,193.92 L347.00,193.98 L347.50,194.05 L348.00,194.11 L348.50,194.17 L349.00,194.23 L349.50,194.29 L350.00,194.35 L350.50,194.41 L351.00,194.47 L351.50,194.53 L352.00,194.58 L352.50,194.64 L353.00,194.70 L353.50,194.75 L354.00,194.81 L354.50,194.86 L355.00,194.92 L355.50,194.97 L356.00,195.02 L356.50,195.08 L357.00,195.13 L357.50,195.18 L358.00,195.23 L358.50,195.28 L359.00,195.33 L359.50,195.38 L360.00,195.43 L360.50,195.48 L361.00,195.52 L361.50,195.57 L362.00,195.62 L362.50,195.66 L363.00,195.71 L363.50,195.76 L364.00,195.80 L364.50,195.85 L365.00,195.89 L365.50,195.93 L366.00,195.98 L366.50,196.02 L367.00,196.06 L367.50,196.10 L368.00,196.14 L368.50,196.19 L369.00,196.23 L369.50,196.27 L370.00,196.31 L370.50,196.35 L371.00,196.39 L371.50,196.42 L372.00,196.46 L372.50,196.50 L373.00,196.54 L373.50,196.57 L374.00,196.61 L374.50,196.65 L375.00,196.68 L375.50,196.72 L376.00,196.76 L376.50,196.79 L377.00,196.82 L377.50,196.86 L378.00,196.89 L378.50,196.93 L379.00,196.96 L379.50,196.99 L380.00,197.03 L380.50,197.06 L381.00,197.09 L381.50,197.12 L382.00,197.15 L382.50,197.18 L383.00,197.22 L383.50,197.25 L384.00,197.28 L384.50,197.31 L385.00,197.34 L385.50,197.36 L386.00,197.39 L386.50,197.42 L387.00,197.45 L387.50,197.48 L388.00,197.51 L388.50,197.53 L389.00,197.56 L389.50,197.59 L390.00,197.62 L390.50,197.64 L391.00,197.67 L391.50,197.69 L392.00,197.72 L392.50,197.75 L393.00,197.77 L393.50,197.80 L394.00,197.82 L394.50,197.85 L395.00,197.87 L395.50,197.89 L396.00,197.92 L396.50,197.94 L397.00,197.97 L397.50,197.99 L398.00,198.01 L398.50,198.03 L399.00,198.06 L399.50,198.08 L400.00,198.10 L400.50,198.12 L401.00,198.14 L401.50,198.17 L402.00,198.19 L402.50,198.21 L403.00,198.23 L403.50,198.25 L404.00,198.27 L404.50,198.29 L405.00,198.31 L405.50,198.33 L406.00,198.35 L406.50,198.37 L407.00,198.39 L407.50,198.41 L408.00,198.43 L408.50,198.45 L409.00,198.47 L409.50,198.48 L410.00,198.50 L410.50,198.52 L411.00,198.54 L411.50,198.56 L412.00,198.57 L412.50,198.59 L413.00,198.61 L413.50,198.63 L414.00,198.64 L414.50,198.66 L415.00,198.68 L415.50,198.69 L416.00,198.71 L416.50,198.72 L417.00,198.74 L417.50,198.76 L418.00,198.77 L418.50,198.79 L419.00,198.80 L419.50,198.82 L420.00,198.83 L420.50,198.85 L421.00,198.86 L421.50,198.88 L422.00,198.89 L422.50,198.91 L423.00,198.92 L423.50,198.94 L424.00,198.95 L424.50,198.96 L425.00,198.98 L425.50,198.99 L426.00,199.01 L426.50,199.02 L427.00,199.03 L427.50,199.05 L428.00,199.06 L428.50,199.07 L429.00,199.08 L429.50,199.10 L430.00,199.11 L430.50,199.12 L431.00,199.13 L431.50,199.15 L432.00,199.16 L432.50,199.17 L433.00,199.18 L433.50,199.19 L434.00,199.21 L434.50,199.22 L435.00,199.23 L435.50,199.24 L436.00,199.25 L436.50,199.26 L437.00,199.27 L437.50,199.29 L438.00,199.30 L438.50,199.31 L439.00,199.32 L439.50,199.33 L440.00,199.34 L440.50,199.35 L441.00,199.36 L441.50,199.37 L442.00,199.38 L442.50,199.39 L443.00,199.40 L443.50,199.41 L444.00,199.42 L444.50,199.43 L445.00,199.44 L445.50,199.45 L446.00,199.46 L446.50,199.47 L447.00,199.48 L447.50,199.49 L448.00,199.50 L448.50,199.50 L449.00,199.51 L449.50,199.52 L450.00,199.53 L450.50,199.54 L451.00,199.55 L451.50,199.56 L452.00,199.57 L452.50,199.57 L453.00,199.58 L453.50,199.59 L454.00,199.60 L454.50,199.61 L455.00,199.61 L455.50,199.62 L456.00,199.63 L456.50,199.64 L457.00,199.65 L457.50,199.65 L458.00,199.66 L458.50,199.67 L459.00,199.68 L459.50,199.68 L460.00,199.69 L460.50,199.70 L461.00,199.71 L461.50,199.71 L462.00,199.72 L462.50,199.73 L463.00,199.73 L463.50,199.74 L464.00,199.75 L464.50,199.76 L465.00,199.76 L465.50,199.77" stroke="#c04000" stroke-width="2.2" stroke-dasharray="6.45,2.15,1.15,2.37" stroke-dashoffset="1.80"/>
</g>
<line x1="63.1" y1="16.45" x2="465.9" y2="16.45" stroke="#000" stroke-width="0.9"/>
<line x1="63.1" y1="238.0" x2="465.9" y2="238.0" stroke="#000" stroke-width="0.8"/>
<line x1="63.5" y1="16.2" x2="63.5" y2="238.4" stroke="#000" stroke-width="0.62"/>
<line x1="465.5" y1="16.2" x2="465.5" y2="238.4" stroke="#000" stroke-width="0.52"/>
<line x1="113.60" y1="238" x2="113.60" y2="233.8" stroke="#000" stroke-opacity="0.58" stroke-width="1"/>
<line x1="113.60" y1="16.4" x2="113.60" y2="20.599999999999998" stroke="#000" stroke-opacity="0.58" stroke-width="1"/>
<line x1="163.85" y1="238" x2="163.85" y2="233.8" stroke="#000" stroke-opacity="0.58" stroke-width="1"/>
<line x1="163.85" y1="16.4" x2="163.85" y2="20.599999999999998" stroke="#000" stroke-opacity="0.58" stroke-width="1"/>
<line x1="214.10" y1="238" x2="214.10" y2="233.8" stroke="#000" stroke-opacity="0.58" stroke-width="1"/>
<line x1="214.10" y1="16.4" x2="214.10" y2="20.599999999999998" stroke="#000" stroke-opacity="0.58" stroke-width="1"/>
<line x1="264.35" y1="238" x2="264.35" y2="233.8" stroke="#000" stroke-opacity="0.58" stroke-width="1"/>
<line x1="264.35" y1="16.4" x2="264.35" y2="20.599999999999998" stroke="#000" stroke-opacity="0.58" stroke-width="1"/>
<line x1="314.60" y1="238" x2="314.60" y2="233.8" stroke="#000" stroke-opacity="0.58" stroke-width="1"/>
<line x1="314.60" y1="16.4" x2="314.60" y2="20.599999999999998" stroke="#000" stroke-opacity="0.58" stroke-width="1"/>
<line x1="364.85" y1="238" x2="364.85" y2="233.8" stroke="#000" stroke-opacity="0.58" stroke-width="1"/>
<line x1="364.85" y1="16.4" x2="364.85" y2="20.599999999999998" stroke="#000" stroke-opacity="0.58" stroke-width="1"/>
<line x1="415.10" y1="238" x2="415.10" y2="233.8" stroke="#000" stroke-opacity="0.58" stroke-width="1"/>
<line x1="415.10" y1="16.4" x2="415.10" y2="20.599999999999998" stroke="#000" stroke-opacity="0.58" stroke-width="1"/>
<line x1="63.5" y1="164.08" x2="67.7" y2="164.08" stroke="#000" stroke-width="0.7"/>
<line x1="465.5" y1="164.08" x2="461.3" y2="164.08" stroke="#000" stroke-width="0.7"/>
<line x1="63.5" y1="127.25" x2="67.7" y2="127.25" stroke="#000" stroke-width="0.7"/>
<line x1="465.5" y1="127.25" x2="461.3" y2="127.25" stroke="#000" stroke-width="0.7"/>
<line x1="63.5" y1="90.42" x2="67.7" y2="90.42" stroke="#000" stroke-width="0.7"/>
<line x1="465.5" y1="90.42" x2="461.3" y2="90.42" stroke="#000" stroke-width="0.7"/>
<line x1="63.5" y1="53.58" x2="67.7" y2="53.58" stroke="#000" stroke-width="0.7"/>
<line x1="465.5" y1="53.58" x2="461.3" y2="53.58" stroke="#000" stroke-width="0.7"/>
<line x1="411.6" y1="29.2" x2="449.1" y2="29.2" stroke="#000000" stroke-width="2.2"/>
<line x1="411.6" y1="46.7" x2="449.1" y2="46.7" stroke="#ff0000" stroke-width="2.2" stroke-dasharray="4.6,4.12"/>
<line x1="411.6" y1="64.2" x2="449.1" y2="64.2" stroke="#00c000" stroke-width="2.2" stroke-dasharray="2.3,3.15"/>
<line x1="411.6" y1="81.7" x2="449.1" y2="81.7" stroke="#0080ff" stroke-width="2.2" stroke-dasharray="1.25,1.47"/>
<line x1="411.6" y1="99.2" x2="449.1" y2="99.2" stroke="#c04000" stroke-width="2.2" stroke-dasharray="6.5,2.2,1.15,2.4"/>
<text transform="translate(54.80,242.20) scale(0.957,1)" text-anchor="end" style="font-size:15.7px">-5</text>
<text transform="translate(54.80,205.37) scale(0.957,1)" text-anchor="end" style="font-size:15.7px">0</text>
<text transform="translate(54.80,168.53) scale(0.957,1)" text-anchor="end" style="font-size:15.7px">5</text>
<text transform="translate(54.80,131.70) scale(0.957,1)" text-anchor="end" style="font-size:15.7px">10</text>
<text transform="translate(54.80,94.87) scale(0.957,1)" text-anchor="end" style="font-size:15.7px">15</text>
<text transform="translate(54.80,58.03) scale(0.957,1)" text-anchor="end" style="font-size:15.7px">20</text>
<text transform="translate(54.80,21.20) scale(0.957,1)" text-anchor="end" style="font-size:15.7px">25</text>
<text transform="translate(65.70,260.00) scale(0.957,1)" text-anchor="middle" style="font-size:15.7px">0</text>
<text transform="translate(115.95,260.00) scale(0.957,1)" text-anchor="middle" style="font-size:15.7px">0.25</text>
<text transform="translate(166.20,260.00) scale(0.957,1)" text-anchor="middle" style="font-size:15.7px">0.5</text>
<text transform="translate(216.45,260.00) scale(0.957,1)" text-anchor="middle" style="font-size:15.7px">0.75</text>
<text transform="translate(266.70,260.00) scale(0.957,1)" text-anchor="middle" style="font-size:15.7px">1</text>
<text transform="translate(316.95,260.00) scale(0.957,1)" text-anchor="middle" style="font-size:15.7px">1.25</text>
<text transform="translate(367.20,260.00) scale(0.957,1)" text-anchor="middle" style="font-size:15.7px">1.5</text>
<text transform="translate(417.45,260.00) scale(0.957,1)" text-anchor="middle" style="font-size:15.7px">1.75</text>
<text transform="translate(467.70,260.00) scale(0.957,1)" text-anchor="middle" style="font-size:15.7px">2</text>
<text transform="translate(264.70,285.60) scale(0.957,1)" text-anchor="middle" style="font-size:15.7px">W [nm]</text>
<text transform="translate(20.70,127.20) rotate(-90) scale(1.03,1)" text-anchor="middle" style="font-size:14.4px">V [mJ/m<tspan dy="-8" style="font-size:12.6px">2</tspan><tspan dy="8">]</tspan></text>
<text transform="translate(351.60,32.10) scale(0.957,1)" text-anchor="start" style="font-size:15.7px"><tspan style="font-family:'Liberation Serif',serif">θ</tspan><tspan dx="0.4">=12.7</tspan><tspan dy="-6.1" style="font-size:12.4px">o</tspan></text>
<text transform="translate(351.60,49.60) scale(0.957,1)" text-anchor="start" style="font-size:15.7px"><tspan style="font-family:'Liberation Serif',serif">θ</tspan><tspan dx="0.4">=14.3</tspan><tspan dy="-6.1" style="font-size:12.4px">o</tspan></text>
<text transform="translate(351.60,67.10) scale(0.957,1)" text-anchor="start" style="font-size:15.7px"><tspan style="font-family:'Liberation Serif',serif">θ</tspan><tspan dx="0.4">=16.3</tspan><tspan dy="-6.1" style="font-size:12.4px">o</tspan></text>
<text transform="translate(351.60,84.60) scale(0.957,1)" text-anchor="start" style="font-size:15.7px"><tspan style="font-family:'Liberation Serif',serif">θ</tspan><tspan dx="0.4">=19.1</tspan><tspan dy="-6.1" style="font-size:12.4px">o</tspan></text>
<text transform="translate(351.60,102.10) scale(0.957,1)" text-anchor="start" style="font-size:15.7px"><tspan style="font-family:'Liberation Serif',serif">θ</tspan><tspan dx="0.4">=45.2</tspan><tspan dy="-6.1" style="font-size:12.4px">o</tspan></text>
</svg>
</body></html>
